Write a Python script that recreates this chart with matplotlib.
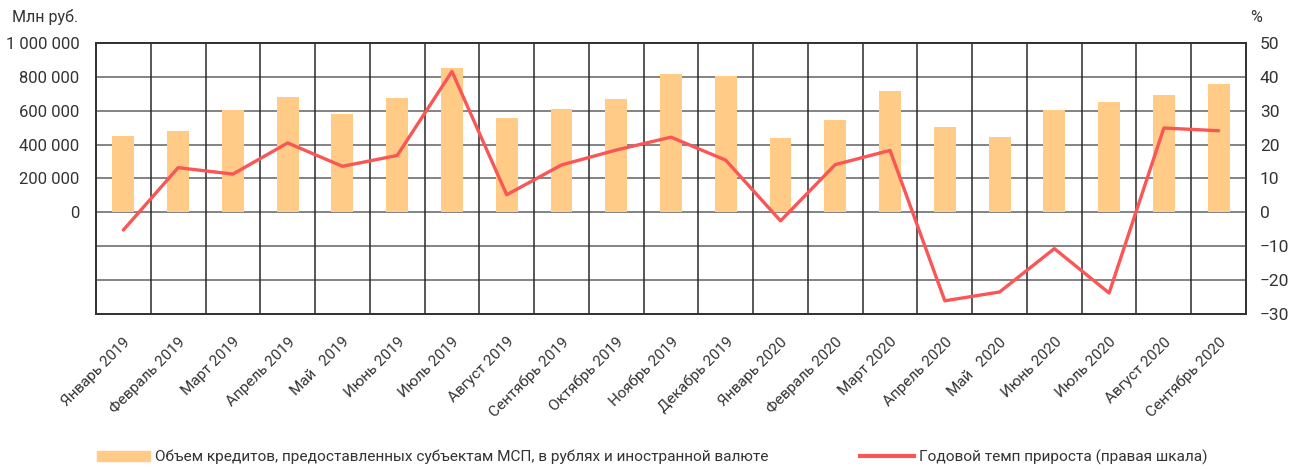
import matplotlib
matplotlib.use("Agg")
import matplotlib.pyplot as plt
import numpy as np
from matplotlib.ticker import FixedLocator, FuncFormatter
from matplotlib.patches import Patch
from matplotlib.lines import Line2D

plt.rcParams['font.family'] = ['Roboto', 'DejaVu Sans']

categories = ["Январь 2019", "Февраль 2019", "Март 2019", "Апрель 2019", "Май   2019",
              "Июнь 2019", "Июль 2019", "Август 2019", "Сентябрь 2019", "Октябрь 2019",
              "Ноябрь 2019", "Декабрь 2019", "Январь 2020", "Февраль 2020", "Март 2020",
              "Апрель 2020", "Май   2020", "Июнь 2020", "Июль 2020", "Август 2020",
              "Сентябрь 2020"]
volume = [449000, 478000, 602000, 684000, 582000, 675000, 851000, 555000, 610000, 672000,
          818000, 808000, 439000, 547000, 714000, 504000, 443000, 604000, 649000, 694000,
          759000]
growth = [-5.2, 13.2, 11.3, 20.5, 13.6, 16.8, 41.6, 5.2, 14.0, 18.4, 22.2, 15.4, -2.5,
          14.1, 18.3, -26.1, -23.5, -10.7, -23.8, 24.9, 24.1]

bar_label = "Объем кредитов, предоставленных субъектам МСП, в рублях и иностранной валюте"
line_label = "Годовой темп прироста (правая шкала)"

bar_color = "#FFCB87"
line_color = "#FA5656"
text_color = "#333333"

fig = plt.figure(figsize=(12.96, 4.71), dpi=100)
ax = fig.add_axes([96/1296, 1 - 314/471, (1246-96)/1296, (314-43)/471])
ax2 = ax.twinx()

x = np.arange(len(categories))
ax.bar(x, volume, width=0.4, color=bar_color, zorder=3)
ax.set_xlim(-0.5, len(categories) - 0.5)
ax.set_ylim(-600000, 1000000)
ax.yaxis.set_major_locator(FixedLocator(np.arange(-600000, 1000001, 200000)))
ax.yaxis.set_major_formatter(FuncFormatter(
    lambda v, p: "" if v < 0 else f"{int(round(v)):,}".replace(",", " ")))

# grid
for yv in np.arange(-400000, 1000000, 200000):
    ax.axhline(yv, color="#7a7a7a", lw=1.3, zorder=1)
for xv in np.arange(0.5, len(categories) - 0.5, 1):
    ax.axvline(xv, color="#2a2a2a", lw=1.1, zorder=1)

ax.set_xticks(x)
ax.set_xticklabels(categories, rotation=45, ha="right", va="top",
                   rotation_mode="anchor", fontsize=11, color=text_color)
ax.tick_params(axis="x", length=0, pad=15)
ax.tick_params(axis="y", length=0, pad=12, labelsize=12, colors=text_color)

ax2.plot(x, growth, color=line_color, lw=2.4, zorder=4, solid_capstyle="round")
ax2.set_ylim(-30, 50)
ax2.set_yticks(np.arange(-30, 51, 10))
ax2.tick_params(axis="y", length=0, pad=10, labelsize=12.5, colors=text_color)

for a in (ax, ax2):
    for s in a.spines.values():
        s.set_color("#333333")
        s.set_linewidth(1.3)

fig.text(12/1296, 1 - 17/471, "Млн руб.", fontsize=11.5, color=text_color, va="center", ha="left")
fig.text(1256/1296, 1 - 17/471, "%", fontsize=11.5, color=text_color, va="center", ha="center")

h1 = Patch(color=bar_color)
h2 = Line2D([0], [0], color=line_color, lw=3)
fig.legend([h1], [bar_label], loc="center left", bbox_to_anchor=(97/1296, 1 - 457/471),
           frameon=False, fontsize=11.1, handlelength=3.45, handleheight=0.6,
           handletextpad=0.3, labelcolor=text_color, borderpad=0, borderaxespad=0)
fig.legend([h2], [line_label], loc="center left", bbox_to_anchor=(860/1296, 1 - 457/471),
           frameon=False, fontsize=11.1, handlelength=3.5, handletextpad=0.3,
           labelcolor=text_color, borderpad=0, borderaxespad=0)

fig.savefig("out.png", dpi=100)
